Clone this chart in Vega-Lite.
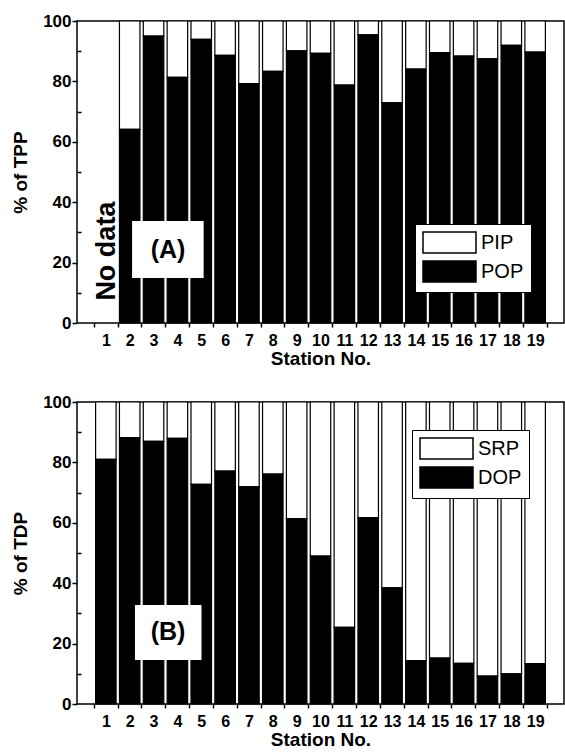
{
  "$schema": "https://vega.github.io/schema/vega-lite/v6.json",
  "padding": {"left": 10, "top": 11, "right": 0, "bottom": 0},
  "spacing": 23,
  "config": {
    "font": "Liberation Sans",
    "view": {"stroke": "black", "strokeWidth": 1.5},
    "axis": {"labelFont": "Liberation Sans", "labelFontWeight": "bold", "labelColor": "black", "titleFont": "Liberation Sans", "titleFontWeight": "bold", "titleColor": "black", "tickColor": "black", "tickWidth": 1.5, "domain": false, "grid": false, "labelOverlap": false},
    "axisX": {"labelOverlap": false, "labelFlush": false},
    "legend": {"labelFont": "Liberation Sans", "labelColor": "black"}
  },
  "resolve": {"scale": {"color": "independent"}, "legend": {"color": "independent"}},
  "vconcat": [
    {
      "width": 487,
      "height": 302,
      "layer": [
        {
          "data": {"values": [
            {"station": 2, "POP": 64.1, "PIP": 35.9},
            {"station": 3, "POP": 95.0, "PIP": 5.0},
            {"station": 4, "POP": 81.3, "PIP": 18.7},
            {"station": 5, "POP": 93.9, "PIP": 6.1},
            {"station": 6, "POP": 88.6, "PIP": 11.4},
            {"station": 7, "POP": 79.3, "PIP": 20.7},
            {"station": 8, "POP": 83.3, "PIP": 16.7},
            {"station": 9, "POP": 90.1, "PIP": 9.9},
            {"station": 10, "POP": 89.3, "PIP": 10.7},
            {"station": 11, "POP": 78.8, "PIP": 21.2},
            {"station": 12, "POP": 95.4, "PIP": 4.6},
            {"station": 13, "POP": 72.9, "PIP": 27.1},
            {"station": 14, "POP": 84.1, "PIP": 15.9},
            {"station": 15, "POP": 89.5, "PIP": 10.5},
            {"station": 16, "POP": 88.4, "PIP": 11.6},
            {"station": 17, "POP": 87.5, "PIP": 12.5},
            {"station": 18, "POP": 91.9, "PIP": 8.1},
            {"station": 19, "POP": 89.7, "PIP": 10.3}
          ]},
          "transform": [{"fold": ["PIP", "POP"], "as": ["component", "pct"]}],
          "mark": {"type": "bar", "orient": "vertical", "width": 20.5, "stroke": "black", "strokeWidth": 1.2},
          "encoding": {
            "x": {"field": "station", "type": "quantitative", "scale": {"domain": [0, 20], "nice": false, "zero": false},
              "axis": {"values": [1,2,3,4,5,6,7,8,9,10,11,12,13,14,15,16,17,18,19,20], "tickCount": 40, "format": "d", "tickOffset": -12.175, "labelOffset": 12.175, "labelExpr": "datum.value > 19 ? '' : datum.label", "labelOverlap": false, "labelFlush": false, "tickSize": 4, "labelPadding": 5, "labelFontSize": 16, "title": "Station No.", "titleFontSize": 19, "titlePadding": 1}},
            "y": {"field": "pct", "type": "quantitative", "stack": "zero", "scale": {"domain": [0, 100], "nice": false},
              "axis": {"values": [0,10,20,30,40,50,60,70,80,90,100], "tickCount": 40, "format": "d", "labelExpr": "datum.value % 20 === 0 ? datum.label : ''", "labelOverlap": false, "tickSize": {"condition": {"test": "datum.value % 20 !== 0", "value": -4}, "value": 5}, "labelFontSize": 17, "labelPadding": 1, "title": "% of TPP", "titleFontSize": 19, "titlePadding": 12}},
            "color": {"field": "component", "type": "nominal", "scale": {"domain": ["PIP", "POP"], "range": ["white", "black"]},
              "legend": {"orient": "none", "legendX": 338, "legendY": 203, "title": null, "fillColor": "white", "strokeColor": "black", "padding": 7, "symbolType": "M-2.524,-1H2.524V1H-2.524Z", "symbolSize": 441, "symbolOffset": 16, "symbolStrokeColor": "black", "symbolStrokeWidth": 1.5, "labelFontSize": 20, "labelFontWeight": "normal", "labelOffset": 20, "rowPadding": 2}},
            "order": {"field": "component", "sort": "descending"}
          }
        },
        {
          "data": {"values": [{"x1": 2.1, "x2": 5.1, "y1": 14.9, "y2": 33.8}]},
          "mark": {"type": "rect", "fill": "white"},
          "encoding": {
            "x": {"field": "x1", "type": "quantitative", "axis": {"labelOverlap": false}},
            "x2": {"field": "x2"},
            "y": {"field": "y1", "type": "quantitative", "axis": {"labelOverlap": false}},
            "y2": {"field": "y2"}
          }
        },
        {
          "data": {"values": [{"x": 3.61, "y": 24.2, "label": "(A)"}]},
          "mark": {"type": "text", "fontSize": 25, "fontWeight": "bold", "color": "black", "align": "center", "baseline": "middle"},
          "encoding": {
            "x": {"field": "x", "type": "quantitative", "axis": {"labelOverlap": false}},
            "y": {"field": "y", "type": "quantitative", "axis": {"labelOverlap": false}},
            "text": {"field": "label"}
          }
        },
        {
          "data": {"values": [{"x": 1.05, "y": 23.8, "label": "No data"}]},
          "mark": {"type": "text", "fontSize": 27, "fontWeight": "bold", "color": "black", "align": "center", "baseline": "middle", "angle": 270},
          "encoding": {
            "x": {"field": "x", "type": "quantitative", "axis": {"labelOverlap": false}},
            "y": {"field": "y", "type": "quantitative", "axis": {"labelOverlap": false}},
            "text": {"field": "label"}
          }
        }
      ]
    },
    {
      "width": 487,
      "height": 302,
      "layer": [
        {
          "data": {"values": [
            {"station": 1, "DOP": 81.0, "SRP": 19.0},
            {"station": 2, "DOP": 88.2, "SRP": 11.8},
            {"station": 3, "DOP": 87.0, "SRP": 13.0},
            {"station": 4, "DOP": 88.0, "SRP": 12.0},
            {"station": 5, "DOP": 72.7, "SRP": 27.3},
            {"station": 6, "DOP": 77.1, "SRP": 22.9},
            {"station": 7, "DOP": 71.9, "SRP": 28.1},
            {"station": 8, "DOP": 76.1, "SRP": 23.9},
            {"station": 9, "DOP": 61.4, "SRP": 38.6},
            {"station": 10, "DOP": 49.0, "SRP": 51.0},
            {"station": 11, "DOP": 25.4, "SRP": 74.6},
            {"station": 12, "DOP": 61.7, "SRP": 38.3},
            {"station": 13, "DOP": 38.5, "SRP": 61.5},
            {"station": 14, "DOP": 14.4, "SRP": 85.6},
            {"station": 15, "DOP": 15.2, "SRP": 84.8},
            {"station": 16, "DOP": 13.5, "SRP": 86.5},
            {"station": 17, "DOP": 9.2, "SRP": 90.8},
            {"station": 18, "DOP": 10.0, "SRP": 90.0},
            {"station": 19, "DOP": 13.4, "SRP": 86.6}
          ]},
          "transform": [{"fold": ["SRP", "DOP"], "as": ["component", "pct"]}],
          "mark": {"type": "bar", "orient": "vertical", "width": 20.5, "stroke": "black", "strokeWidth": 1.2},
          "encoding": {
            "x": {"field": "station", "type": "quantitative", "scale": {"domain": [0, 20], "nice": false, "zero": false},
              "axis": {"values": [1,2,3,4,5,6,7,8,9,10,11,12,13,14,15,16,17,18,19,20], "tickCount": 40, "format": "d", "tickOffset": -12.175, "labelOffset": 12.175, "labelExpr": "datum.value > 19 ? '' : datum.label", "labelOverlap": false, "labelFlush": false, "tickSize": 4, "labelPadding": 5, "labelFontSize": 16, "title": "Station No.", "titleFontSize": 19, "titlePadding": 1}},
            "y": {"field": "pct", "type": "quantitative", "stack": "zero", "scale": {"domain": [0, 100], "nice": false},
              "axis": {"values": [0,10,20,30,40,50,60,70,80,90,100], "tickCount": 40, "format": "d", "labelExpr": "datum.value % 20 === 0 ? datum.label : ''", "labelOverlap": false, "tickSize": {"condition": {"test": "datum.value % 20 !== 0", "value": -4}, "value": 5}, "labelFontSize": 17, "labelPadding": 1, "title": "% of TDP", "titleFontSize": 19, "titlePadding": 12}},
            "color": {"field": "component", "type": "nominal", "scale": {"domain": ["SRP", "DOP"], "range": ["white", "black"]},
              "legend": {"orient": "none", "legendX": 335, "legendY": 28, "title": null, "fillColor": "white", "strokeColor": "black", "padding": 7, "symbolType": "M-2.524,-1H2.524V1H-2.524Z", "symbolSize": 441, "symbolOffset": 16, "symbolStrokeColor": "black", "symbolStrokeWidth": 1.5, "labelFontSize": 20, "labelFontWeight": "normal", "labelOffset": 20, "rowPadding": 2}},
            "order": {"field": "component", "sort": "ascending"}
          }
        },
        {
          "data": {"values": [{"x1": 2.22, "x2": 5.01, "y1": 14.6, "y2": 32.8}]},
          "mark": {"type": "rect", "fill": "white"},
          "encoding": {
            "x": {"field": "x1", "type": "quantitative", "axis": {"labelOverlap": false}},
            "x2": {"field": "x2"},
            "y": {"field": "y1", "type": "quantitative", "axis": {"labelOverlap": false}},
            "y2": {"field": "y2"}
          }
        },
        {
          "data": {"values": [{"x": 3.61, "y": 23.8, "label": "(B)"}]},
          "mark": {"type": "text", "fontSize": 25, "fontWeight": "bold", "color": "black", "align": "center", "baseline": "middle"},
          "encoding": {
            "x": {"field": "x", "type": "quantitative", "axis": {"labelOverlap": false}},
            "y": {"field": "y", "type": "quantitative", "axis": {"labelOverlap": false}},
            "text": {"field": "label"}
          }
        }
      ]
    }
  ]
}
